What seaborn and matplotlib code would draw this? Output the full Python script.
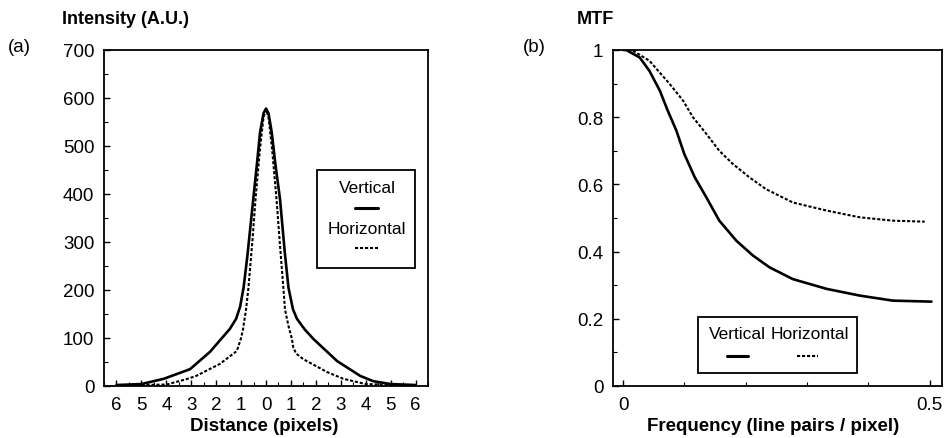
import numpy as np
import pandas as pd
import matplotlib
matplotlib.use("Agg")
import matplotlib.pyplot as plt
from matplotlib.patches import Rectangle
from matplotlib.lines import Line2D
from matplotlib.ticker import MultipleLocator, FixedLocator
import seaborn as sns

# ---------------- data ----------------
psf_vert_x = [-6, -5, -4.1, -3.05, -2.25, -1.45, -1.2, -1.04, -0.9, -0.75, -0.51, -0.35,
              -0.24, -0.1, 0, 0.1, 0.23, 0.38, 0.56, 0.75, 0.9, 1.08, 1.24, 1.55,
              1.9, 2.85, 3.78, 4.3, 5, 6]
psf_vert_y = [2, 4, 15, 35, 71, 119, 140, 165, 205, 270, 390, 470,
              528, 568, 578, 568, 528, 460, 390, 280, 205, 160, 140, 118,
              98, 52, 21, 10, 4, 2]

psf_horz_x = [-6, -4, -3.2, -2.8, -1.85, -1.17, -1.0, -0.92, -0.8, -0.71, -0.55, -0.42,
              -0.25, -0.1, 0, 0.1, 0.25, 0.42, 0.55, 0.70, 0.76, 0.9, 1.04, 1.09,
              1.2, 1.49, 2.45, 3.1, 4, 6]
psf_horz_y = [1, 3, 14, 21, 46, 73, 100, 119, 160, 202, 300, 390,
              490, 560, 576, 560, 490, 390, 300, 202, 160, 125, 98, 81,
              68, 56, 29, 15, 4, 1]

mtf_vert_f = [0, 0.005, 0.027, 0.043, 0.060, 0.073, 0.087, 0.100, 0.117, 0.136,
              0.157, 0.185, 0.212, 0.239, 0.277, 0.332, 0.386, 0.440, 0.503]
mtf_vert_v = [1.0, 1.0, 0.978, 0.938, 0.879, 0.819, 0.760, 0.690, 0.621, 0.561,
              0.492, 0.432, 0.388, 0.353, 0.318, 0.289, 0.269, 0.254, 0.251]

mtf_horz_f = [0, 0.016, 0.043, 0.054, 0.076, 0.098, 0.114, 0.136, 0.157, 0.179,
              0.206, 0.233, 0.277, 0.332, 0.386, 0.440, 0.492]
mtf_horz_v = [1.0, 0.998, 0.968, 0.945, 0.899, 0.849, 0.800, 0.750, 0.700, 0.661,
              0.621, 0.586, 0.546, 0.522, 0.502, 0.492, 0.489]

dist_ticks = [-6, -5, -4, -3, -2, -1, 0, 1, 2, 3, 4, 5, 6]
dist_labels = ["6", "5", "4", "3", "2", "1", "0", "1", "2", "3", "4", "5", "6"]
mtf_yticks = [0, 0.2, 0.4, 0.6, 0.8, 1.0]
mtf_ylabels = ["0", "0.2", "0.4", "0.6", "0.8", "1"]

# ---------------- style ----------------
sns.set_style("ticks")
plt.rcParams['font.family'] = ['Liberation Sans', 'DejaVu Sans']
plt.rcParams['font.size'] = 13
plt.rcParams['text.color'] = 'black'
plt.rcParams['axes.labelcolor'] = 'black'
plt.rcParams['xtick.color'] = 'black'
plt.rcParams['ytick.color'] = 'black'

fig = plt.figure(figsize=(9.44, 4.39), dpi=100)
axL = fig.add_axes([0.1102, 0.1185, 0.3432, 0.7654])
axR = fig.add_axes([0.6494, 0.1185, 0.3490, 0.7654])

dash_style = (0, (1.5, 0.9))
solid_kw = dict(color="black", linewidth=1.9)
dash_kw = dict(color="black", linewidth=1.5, linestyle=dash_style)

dfLv = pd.DataFrame({"x": psf_vert_x, "y": psf_vert_y})
dfLh = pd.DataFrame({"x": psf_horz_x, "y": psf_horz_y})
sns.lineplot(data=dfLv, x="x", y="y", ax=axL, sort=False, **solid_kw)
sns.lineplot(data=dfLh, x="x", y="y", ax=axL, sort=False, **dash_kw)

dfRv = pd.DataFrame({"x": mtf_vert_f, "y": mtf_vert_v})
dfRh = pd.DataFrame({"x": mtf_horz_f, "y": mtf_horz_v})
sns.lineplot(data=dfRv, x="x", y="y", ax=axR, sort=False, **solid_kw)
sns.lineplot(data=dfRh, x="x", y="y", ax=axR, sort=False, **dash_kw)

# ---------------- axes ----------------
for ax in (axL, axR):
    ax.set_xlabel("")
    ax.set_ylabel("")
    for s in ax.spines.values():
        s.set_linewidth(1.3)
        s.set_color("black")
    ax.tick_params(which="both", direction="in", color="black", labelcolor="black", labelsize=13.5)
    ax.tick_params(which="major", length=4, width=1, pad=7)
    ax.tick_params(which="minor", length=3, width=0.8)

axL.set_xlim(-6.5, 6.5)
axL.set_ylim(0, 700)
axL.xaxis.set_major_locator(FixedLocator(dist_ticks))
axL.set_xticklabels(dist_labels)
axL.xaxis.set_minor_locator(MultipleLocator(0.5))
axL.yaxis.set_major_locator(MultipleLocator(100))
axL.yaxis.set_minor_locator(MultipleLocator(50))

axR.set_xlim(-0.0163, 0.521)
axR.set_ylim(0, 1)
axR.set_xticks([0, 0.5])
axR.set_xticklabels(["0", "0.5"])
axR.xaxis.set_minor_locator(MultipleLocator(0.1))
axR.set_yticks(mtf_yticks)
axR.set_yticklabels(mtf_ylabels)
axR.yaxis.set_minor_locator(MultipleLocator(0.1))

# ---------------- legends (drawn as boxes) ----------------
def seg(ax, x0, x1, y, **kw):
    ax.add_line(Line2D([x0, x1], [y, y], transform=ax.transAxes, **kw))

axL.add_patch(Rectangle((0.657, 0.351), 0.303, 0.292, transform=axL.transAxes,
                        fill=True, facecolor="white", edgecolor="black", linewidth=1.3, zorder=5))
axL.text(0.812, 0.592, "Vertical", transform=axL.transAxes, ha="center", va="center", fontsize=12.5, zorder=6)
seg(axL, 0.775, 0.846, 0.530, color="black", linewidth=2.2, zorder=6)
axL.text(0.812, 0.470, "Horizontal", transform=axL.transAxes, ha="center", va="center", fontsize=12.5, zorder=6)
seg(axL, 0.775, 0.846, 0.411, color="black", linewidth=1.5, linestyle=dash_style, zorder=6)

axR.add_patch(Rectangle((0.258, 0.039), 0.481, 0.166, transform=axR.transAxes,
                        fill=True, facecolor="white", edgecolor="black", linewidth=1.3, zorder=5))
axR.text(0.379, 0.155, "Vertical", transform=axR.transAxes, ha="center", va="center", fontsize=12.5, zorder=6)
axR.text(0.597, 0.155, "Horizontal", transform=axR.transAxes, ha="center", va="center", fontsize=12.5, zorder=6)
seg(axR, 0.345, 0.409, 0.089, color="black", linewidth=2.2, zorder=6)
seg(axR, 0.558, 0.621, 0.089, color="black", linewidth=1.5, linestyle=dash_style, zorder=6)

# ---------------- titles / labels ----------------
W, H = 944.0, 439.0
fig.text(62 / W, 1 - 20 / H, "Intensity (A.U.)", ha="left", va="center", fontsize=13, fontweight="bold")
fig.text(577 / W, 1 - 20 / H, "MTF", ha="left", va="center", fontsize=13, fontweight="bold")
fig.text(8 / W, 1 - 48 / H, "(a)", ha="left", va="center", fontsize=13.5)
fig.text(523 / W, 1 - 48 / H, "(b)", ha="left", va="center", fontsize=13.5)
fig.text(264 / W, 1 - 427 / H, "Distance (pixels)", ha="center", va="center", fontsize=13.5, fontweight="bold")
fig.text(773 / W, 1 - 427 / H, "Frequency (line pairs / pixel)", ha="center", va="center", fontsize=13.5, fontweight="bold")

fig.savefig("out.png", dpi=100)
